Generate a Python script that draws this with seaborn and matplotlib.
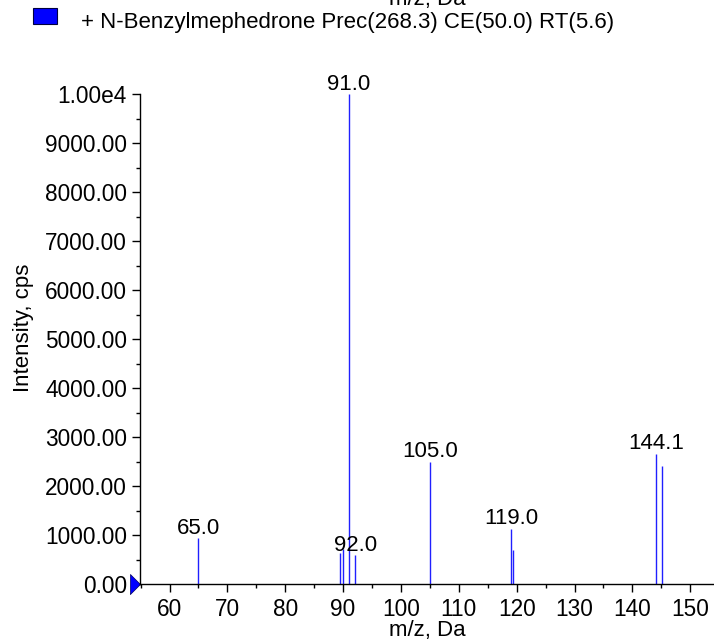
import numpy as np
import matplotlib
matplotlib.use('Agg')
import matplotlib.pyplot as plt
import matplotlib.transforms as mtransforms
from matplotlib.patches import Rectangle
from matplotlib.ticker import MultipleLocator, FuncFormatter
import seaborn as sns

# spectrum peaks (m/z, intensity in cps)
mz = [65.0, 89.4, 90.0, 91.0, 92.1, 105.0, 119.0, 119.3, 144.1, 145.1]
intensity = [930, 640, 720, 10000, 590, 2500, 1130, 690, 2660, 2410]

# labelled peaks
label_mz = [65.0, 91.0, 92.1, 105.0, 119.0, 144.1]
label_text = ["65.0", "91.0", "92.0", "105.0", "119.0", "144.1"]

legend_text = "+ N-Benzylmephedrone Prec(268.3) CE(50.0) RT(5.6)"
x_ticks = [60, 70, 80, 90, 100, 110, 120, 130, 140, 150]

sns.set_style('ticks')
plt.rcParams['font.family'] = ['Liberation Sans', 'DejaVu Sans']
plt.rcParams['text.color'] = 'black'
plt.rcParams['axes.labelcolor'] = 'black'
plt.rcParams['xtick.color'] = 'black'
plt.rcParams['ytick.color'] = 'black'
plt.rcParams['axes.edgecolor'] = 'black'

fig = plt.figure(figsize=(7.14, 6.41), dpi=100)
W, H = 714, 641
ax = fig.add_axes([140 / W, (H - 584) / H, (W - 140) / W, (584 - 94) / H])

ax.vlines(mz, 0, intensity, color='#2020ff', lw=1.0)

# peak labels
lookup = dict(zip(mz, intensity))
for x, t in zip(label_mz, label_text):
    ax.annotate(t, (x, lookup[x]), xytext=(0, 3), textcoords='offset points',
                ha='center', va='baseline', fontsize=16, color='black',
                annotation_clip=False)

ax.set_xlim(54.9, 154.1)
ax.set_ylim(0, 10000)

ax.set_xticks(x_ticks)
ax.xaxis.set_minor_locator(MultipleLocator(5))
ax.yaxis.set_major_locator(MultipleLocator(1000))
ax.yaxis.set_minor_locator(MultipleLocator(500))


def yfmt(v, pos):
    if v >= 10000:
        return "1.00e4"
    return "%.2f" % v


ax.yaxis.set_major_formatter(FuncFormatter(yfmt))
ax.tick_params(axis='both', which='major', length=5.8, width=1, labelsize=16.3,
               color='black', labelcolor='black')
ax.tick_params(axis='both', which='minor', length=2.9, width=1, color='black')
ax.tick_params(axis='x', which='major', pad=4)
ax.tick_params(axis='y', which='major', pad=3.6)

sns.despine(ax=ax)
for s in ['left', 'bottom']:
    ax.spines[s].set_color('black')
    ax.spines[s].set_linewidth(1)

ax.set_xlabel("m/z, Da", fontsize=16, color='black')
ax.xaxis.set_label_coords(0.5, -(620 - 584) / 490)
ax.set_ylabel("Intensity, cps", fontsize=16, color='black')
ax.yaxis.set_label_coords(-(140 - 34) / 574, (584 - 328) / 490)

# baseline marker on the y axis
verts = [(-1, -2), (1, 0), (-1, 2), (-1, -2)]
trans = ax.transData + mtransforms.ScaledTranslation(-5 / 100, 0, fig.dpi_scale_trans)
ax.plot([54.9], [0], marker=verts, ms=14.4, color='blue', mec='#000060', mew=0.5,
        ls='none', clip_on=False, transform=trans)

# top part: cut-off axis title and legend entry
fig.text(427 / W, 1 - 5 / H, "m/z, Da", ha='center', va='baseline', fontsize=16)
fig.patches.append(Rectangle((33 / W, (H - 24) / H), 24 / W, 16 / H,
                             facecolor='blue', edgecolor='#000040', lw=0.8,
                             transform=fig.transFigure, figure=fig))
fig.text(81 / W, (H - 28) / H, legend_text, ha='left', va='baseline', fontsize=16)

fig.savefig('out.png', dpi=100)
